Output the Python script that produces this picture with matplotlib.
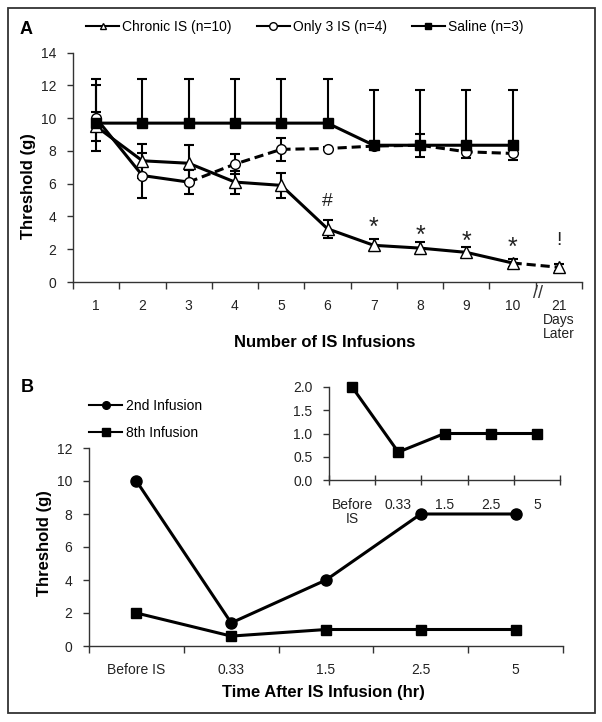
import numpy as np
import matplotlib
matplotlib.use("Agg")
import matplotlib.pyplot as plt
from matplotlib.lines import Line2D
from matplotlib.patches import Rectangle

plt.rcParams['font.family'] = ['Liberation Sans', 'DejaVu Sans']

# ---------------- Data: panel A ----------------
a_labels = ['1', '2', '3', '4', '5', '6', '7', '8', '9', '10', '21\nDays\nLater']
chronic_mean = [9.5, 7.4, 7.25, 6.1, 5.9, 3.25, 2.24, 2.07, 1.81, 1.16, 0.9]
chronic_err = [0.9, 1.05, 1.1, 0.7, 0.75, 0.55, 0.37, 0.38, 0.3, 0.25, 0.22]
only3_mean = [10.0, 6.5, 6.1, 7.2, 8.1, 8.15, 8.3, 8.35, 7.95, 7.85]
only3_err = [2.0, 1.35, 0.72, 0.6, 0.7, 0.1, 0.2, 0.7, 0.35, 0.4]
saline_mean = [9.7, 9.7, 9.7, 9.7, 9.7, 9.7, 8.35, 8.35, 8.35, 8.35]
saline_err = [2.7, 2.7, 2.7, 2.7, 2.7, 2.7, 3.4, 3.4, 3.4, 3.4]
a_legend = ['Chronic IS (n=10)', 'Only 3 IS (n=4)', 'Saline (n=3)']
sig_marks = ['#', '*', '*', '*', '*', '!']
sig_index = [5, 6, 7, 8, 9, 10]
sig_height = [4.9, 3.7, 3.25, 2.87, 2.5, 2.56]

# ---------------- Data: panel B ----------------
b_labels = ['Before IS', '0.33', '1.5', '2.5', '5']
second_inf = [10.0, 1.4, 4.0, 8.0, 8.0]
eighth_inf = [2.0, 0.6, 1.0, 1.0, 1.0]
b_legend = ['2nd Infusion', '8th Infusion']
inset_labels = ['Before\nIS', '0.33', '1.5', '2.5', '5']
inset_vals = [2.0, 0.6, 1.0, 1.0, 1.0]

W, H = 602, 722
fig = plt.figure(figsize=(W / 100, H / 100), dpi=100)


def ax_rect(x0, y0, x1, y1):
    return [x0 / W, 1 - y1 / H, (x1 - x0) / W, (y1 - y0) / H]


TICKC = '#222222'
SPC = '#333333'
LW = 2.2

def style_axes(ax):
    for s in ['top', 'right']:
        ax.spines[s].set_visible(False)
    for s in ['left', 'bottom']:
        ax.spines[s].set_color(SPC)
        ax.spines[s].set_linewidth(1.0)


# ================= Panel A =================
axA = fig.add_axes(ax_rect(73, 52.7, 582, 282))
style_axes(axA)
xa = np.arange(len(a_labels))
x10 = np.arange(len(only3_mean))

# Saline
axA.errorbar(x10, saline_mean, yerr=[np.zeros(len(saline_err)), saline_err],
             fmt='none', ecolor='black', elinewidth=1.5, capsize=3.6, capthick=1.5, zorder=3)
axA.plot(x10, saline_mean, '-', color='black', lw=LW, marker='s', ms=6.5,
         mfc='black', mec='black', zorder=6)

# Only 3 IS
axA.errorbar(x10, only3_mean, yerr=only3_err, fmt='none', ecolor='black',
             elinewidth=1.5, capsize=3.6, capthick=1.5, zorder=3)
axA.plot(x10[:3], only3_mean[:3], '-', color='black', lw=LW, zorder=4)
axA.plot(x10[2:], only3_mean[2:], '--', color='black', lw=LW, dashes=(3, 1.6), zorder=4)
axA.plot(x10, only3_mean, 'none', marker='o', ms=7, mfc='white', mec='black', mew=1.0, zorder=5)

# Chronic IS
axA.errorbar(xa, chronic_mean, yerr=chronic_err, fmt='none', ecolor='black',
             elinewidth=1.5, capsize=3.6, capthick=1.5, zorder=3)
axA.plot(xa[:10], chronic_mean[:10], '-', color='black', lw=LW, zorder=4)
axA.plot(xa[9:], chronic_mean[9:], '--', color='black', lw=LW, dashes=(3, 1.6), zorder=4)
axA.plot(xa, chronic_mean, 'none', marker='^', ms=8, mfc='white', mec='black', mew=1.0, zorder=5)

for m, i, h in zip(sig_marks, sig_index, sig_height):
    if m == '*':
        axA.annotate(m, xy=(xa[i], h), xytext=(0, -10), textcoords='offset points',
                     ha='center', va='baseline', fontsize=18, color='#222222')
    else:
        axA.text(xa[i], h, m, ha='center', va='center', fontsize=14, color='#222222')

axA.set_xlim(-0.5, len(a_labels) - 0.5)
axA.set_ylim(0, 14)
axA.set_yticks(np.arange(0, 15, 2))
axA.set_xticks(xa)
axA.set_xticklabels(a_labels, linespacing=1.0)
axA.set_xticks(np.arange(-0.5, len(a_labels), 1), minor=True)
axA.tick_params(axis='x', which='major', length=0, pad=12, labelsize=10, labelcolor=TICKC)
axA.tick_params(axis='x', which='minor', length=5, width=1.0, direction='out', color=SPC)
axA.tick_params(axis='y', length=4, width=1.0, direction='out', pad=8, labelsize=10,
                labelcolor=TICKC, color=SPC)

axA.annotate('//', xy=(9.5, 0), xytext=(1.5, -8), textcoords='offset points',
             ha='center', va='center', fontsize=13, color='#333333', annotation_clip=False)

axA.set_ylabel('Threshold (g)', fontsize=12, fontweight='bold')
axA.yaxis.label.set_va('center')
axA.yaxis.set_label_coords(-0.0865, 0.42)
axA.set_xlabel('Number of IS Infusions', fontsize=12, fontweight='bold')
axA.xaxis.label.set_va('center')
axA.xaxis.set_label_coords(0.495, -0.262)

hA = [Line2D([], [], color='black', lw=1.5, marker='^', ms=5, mfc='white', mec='black'),
      Line2D([], [], color='black', lw=1.5, marker='o', ms=5.5, mfc='white', mec='black'),
      Line2D([], [], color='black', lw=1.5, marker='s', ms=5, mfc='black', mec='black')]
fig.legend(hA, a_legend, loc='center left', bbox_to_anchor=(86 / W, 1 - 27 / H), ncol=3,
           frameon=False, borderpad=0, handlelength=2.4, handletextpad=0.2,
           columnspacing=1.8, fontsize=10, borderaxespad=0)

fig.text(20 / W, 1 - 29 / H, 'A', fontsize=13, fontweight='bold', ha='left', va='center')

# ================= Panel B =================
axB = fig.add_axes(ax_rect(89, 448, 563, 646))
style_axes(axB)
xb = np.arange(len(b_labels))
axB.plot(xb, second_inf, '-', color='black', lw=LW, marker='o', ms=8, mfc='black', mec='black', zorder=4)
axB.plot(xb, eighth_inf, '-', color='black', lw=LW, marker='s', ms=7.5, mfc='black', mec='black', zorder=4)
axB.set_xlim(-0.5, len(b_labels) - 0.5)
axB.set_ylim(0, 12)
axB.set_yticks(np.arange(0, 13, 2))
axB.set_xticks(xb)
axB.set_xticklabels(b_labels)
axB.set_xticks(np.arange(-0.5, len(b_labels), 1), minor=True)
axB.tick_params(axis='x', which='major', length=0, pad=12, labelsize=10, labelcolor=TICKC)
axB.tick_params(axis='x', which='minor', length=5, width=1.0, direction='out', color=SPC)
axB.tick_params(axis='y', length=4, width=1.0, direction='out', pad=8, labelsize=10,
                labelcolor=TICKC, color=SPC)
axB.set_ylabel('Threshold (g)', fontsize=12, fontweight='bold')
axB.yaxis.label.set_va('center')
axB.yaxis.set_label_coords(-0.093, 0.52)
axB.set_xlabel('Time After IS Infusion (hr)', fontsize=12, fontweight='bold')
axB.xaxis.label.set_va('center')
axB.xaxis.set_label_coords(0.494, -0.237)

hB = [Line2D([], [], color='black', lw=1.5, marker='o', ms=5.5, mfc='black', mec='black'),
      Line2D([], [], color='black', lw=1.5, marker='s', ms=5.5, mfc='black', mec='black')]
fig.legend(hB, b_legend, loc='center left', bbox_to_anchor=(89 / W, 1 - 419.5 / H), ncol=1,
           frameon=False, borderpad=0, handlelength=2.4, handletextpad=0.3,
           labelspacing=0.95, fontsize=10, borderaxespad=0)

fig.text(21 / W, 1 - 387 / H, 'B', fontsize=13, fontweight='bold', ha='left', va='center')

# ---- Inset ----
axI = fig.add_axes(ax_rect(329, 387, 560, 480))
style_axes(axI)
axI.patch.set_alpha(0)
xi = np.arange(len(inset_labels))
axI.plot(xi, inset_vals, '-', color='black', lw=LW, marker='s', ms=6.5, mfc='black',
         mec='black', clip_on=False)
axI.set_xlim(-0.5, len(inset_labels) - 0.5)
axI.set_ylim(0, 2)
yt = np.arange(0, 2.01, 0.5)
axI.set_yticks(yt)
axI.set_yticklabels([f'{v:.1f}' for v in yt])
axI.set_xticks(xi)
axI.set_xticklabels(inset_labels, linespacing=1.0)
axI.set_xticks(np.arange(-0.5, len(inset_labels), 1), minor=True)
axI.tick_params(axis='x', which='major', length=0, pad=13, labelsize=10, labelcolor=TICKC)
axI.tick_params(axis='x', which='minor', length=7, width=1.0, direction='inout', color=SPC)
axI.tick_params(axis='y', length=4, width=1.0, direction='out', pad=8, labelsize=10,
                labelcolor=TICKC, color=SPC)

# Outer frame
fig.patches.append(Rectangle((8 / W, 1 - 713 / H), (595 - 8) / W, (713 - 8) / H,
                             transform=fig.transFigure, fill=False, lw=1.3, ec='#333333'))

fig.savefig('out.png', dpi=100)
